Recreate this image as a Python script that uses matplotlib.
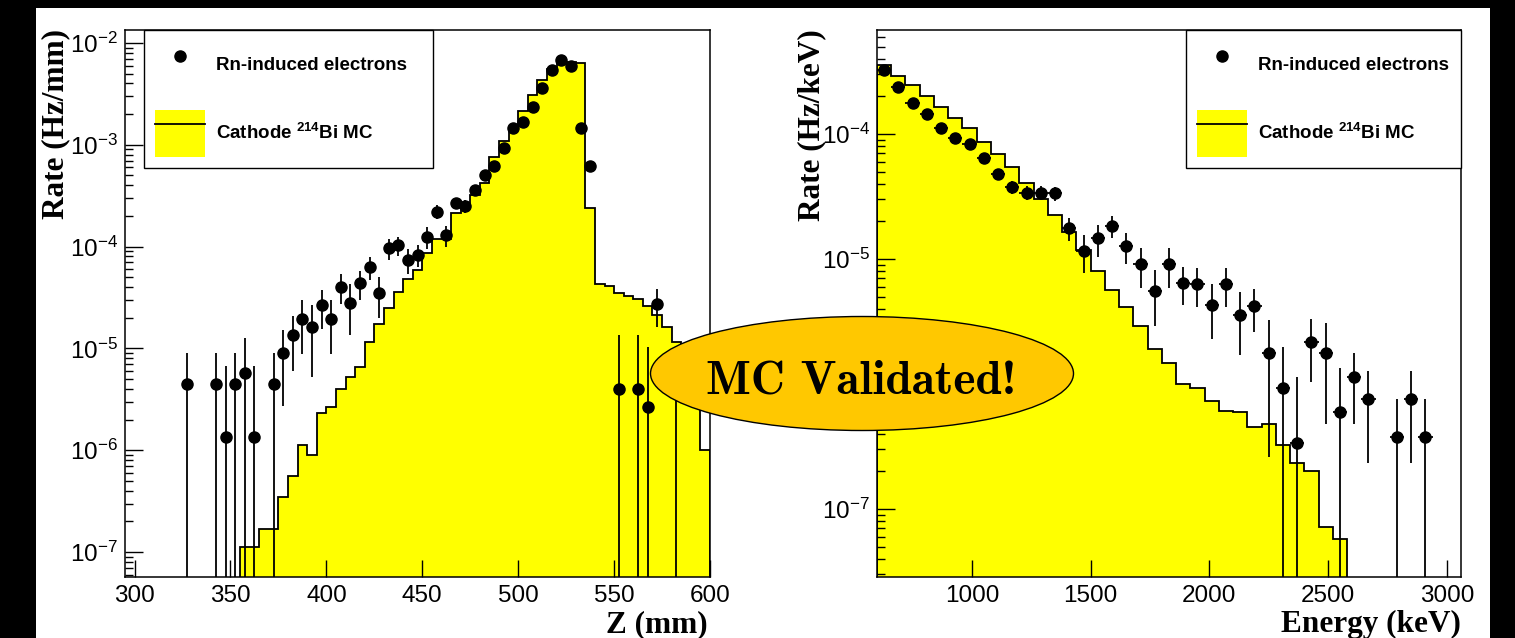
import matplotlib
matplotlib.use("Agg")
import matplotlib.pyplot as plt
from matplotlib.patches import Ellipse, Rectangle, Patch
from matplotlib.lines import Line2D
from matplotlib.ticker import LogLocator, NullFormatter, MultipleLocator
import numpy as np

plt.rcParams['font.family'] = 'Liberation Sans'
plt.rcParams['mathtext.fontset'] = 'custom'
plt.rcParams['mathtext.rm'] = 'Liberation Sans'
plt.rcParams['mathtext.it'] = 'Liberation Sans:italic'
plt.rcParams['mathtext.bf'] = 'Liberation Sans:bold'

# ---------------------------
# Z spectrum (left)
# ---------------------------
z_mc_edges = np.arange(355, 601, 5)
z_mc_rate = [1.12e-7, 1.12e-7, 1.69e-7, 1.69e-7, 3.44e-7, 5.6e-7, 1.12e-6, 8.95e-7,
             2.3e-6, 2.67e-6, 3.96e-6, 5.27e-6, 6.61e-6, 1.15e-5, 1.74e-5, 2.48e-5,
             3.61e-5, 4.79e-5, 5.9e-5, 8.6e-5, 1.19e-4, 1.19e-4, 2.16e-4, 2.53e-4,
             3.22e-4, 4.2e-4, 7.57e-4, 1.08e-3, 1.49e-3, 2.17e-3, 3.1e-3, 4.29e-3,
             5.55e-3, 6.6e-3, 6.45e-3, 6.35e-3, 2.42e-4, 4.3e-5, 4.1e-5, 3.5e-5,
             3.26e-5, 3.03e-5, 2.6e-5, 2.13e-5, 1.63e-5, 1.16e-5, 8e-6, 5e-6, 1.0e-6]

z_data = [327.5, 342.5, 347.5, 352.5, 357.5, 362.5, 372.5, 377.5, 382.5, 387.5,
          392.5, 397.5, 402.5, 407.5, 412.5, 417.5, 422.5, 427.5, 432.5, 437.5,
          442.5, 447.5, 452.5, 457.5, 462.5, 467.5, 472.5, 477.5, 482.5, 487.5,
          492.5, 497.5, 502.5, 507.5, 512.5, 517.5, 522.5, 527.5, 532.5, 537.5,
          552.5, 562.5, 567.5, 572.5, 582.5]
z_rate = [4.47e-6, 4.47e-6, 1.34e-6, 4.47e-6, 5.8e-6, 1.34e-6, 4.47e-6, 8.95e-6, 1.35e-5, 1.93e-5,
          1.61e-5, 2.67e-5, 1.93e-5, 4.05e-5, 2.8e-5, 4.37e-5, 6.35e-5, 3.5e-5, 9.6e-5, 1.03e-4,
          7.4e-5, 8.3e-5, 1.25e-4, 2.2e-4, 1.3e-4, 2.67e-4, 2.5e-4, 3.56e-4, 5.0e-4, 6.2e-4,
          9.2e-4, 1.46e-3, 1.68e-3, 2.35e-3, 3.6e-3, 5.46e-3, 6.74e-3, 5.98e-3, 1.46e-3, 6.25e-4,
          4.0e-6, 4.0e-6, 2.67e-6, 2.73e-5, 5.0e-6]
z_err = [4.47e-6, 4.47e-6, 5.4e-6, 4.47e-6, 6.9e-6, 5.4e-6, 4.47e-6, 6.2e-6, 7.5e-6, 1.05e-5,
         1.08e-5, 1.1e-5, 1.04e-5, 1.3e-5, 1.45e-5, 1.4e-5, 1.6e-5, 1.5e-5, 2.2e-5, 2.2e-5,
         2.0e-5, 2.0e-5, 3.0e-5, 3.5e-5, 3.0e-5, 3.5e-5, 3.5e-5, 4e-5, 4.5e-5, 5e-5,
         6e-5, 7e-5, 8e-5, 9e-5, 1.1e-4, 1.4e-4, 1.5e-4, 1.5e-4, 7e-5, 5e-5,
         9.6e-6, 9.6e-6, 7.7e-6, 1.1e-5, 5.0e-6]

# ---------------------------
# Energy spectrum (right)
# ---------------------------
e_mc_edges = np.arange(600, 2581, 60)
e_mc_rate = [3.56e-4, 2.91e-4, 2.47e-4, 2.01e-4, 1.65e-4, 1.35e-4, 1.11e-4, 8.68e-5,
             6.92e-5, 5.48e-5, 4.04e-5, 3.02e-5, 2.25e-5, 1.64e-5, 1.18e-5, 8.06e-6,
             5.65e-6, 4.15e-6, 2.91e-6, 1.9e-6, 1.47e-6, 1.0e-6, 9.24e-7, 7.35e-7,
             6.11e-7, 5.94e-7, 4.55e-7, 4.76e-7, 3.25e-7, 2.32e-7, 2.02e-7, 7.14e-8, 5.71e-8]

e_data = [630, 690, 750, 810, 870, 930, 990, 1050, 1110, 1170, 1230, 1290, 1350,
          1410, 1470, 1530, 1590, 1650, 1710, 1770, 1830, 1890, 1950, 2010, 2070,
          2130, 2190, 2250, 2310, 2370, 2430, 2490, 2550, 2610, 2670, 2790, 2850, 2910]
e_rate = [3.25e-4, 2.36e-4, 1.78e-4, 1.45e-4, 1.12e-4, 9.23e-5, 8.32e-5, 6.39e-5, 4.79e-5,
          3.74e-5, 3.39e-5, 3.39e-5, 3.35e-5, 1.76e-5, 1.16e-5, 1.46e-5, 1.84e-5, 1.27e-5,
          9.07e-6, 5.5e-6, 9.07e-6, 6.46e-6, 6.3e-6, 4.28e-6, 6.3e-6, 3.56e-6, 4.2e-6,
          1.76e-6, 9.34e-7, 3.35e-7, 2.18e-6, 1.78e-6, 5.94e-7, 1.13e-6, 7.55e-7,
          3.79e-7, 7.55e-7, 3.79e-7]
e_err = [1.3e-5, 1.1e-5, 9e-6, 8e-6, 7e-6, 6.5e-6, 6e-6, 5.5e-6, 5e-6,
         4.5e-6, 4.2e-6, 4.2e-6, 4.2e-6, 3.7e-6, 3.9e-6, 4.2e-6, 3.8e-6, 3.5e-6,
         3.2e-6, 2.6e-6, 3.2e-6, 2.2e-6, 2.2e-6, 2.0e-6, 2.2e-6, 1.85e-6, 1.6e-6,
         1.5e-6, 1.05e-6, 8e-7, 1.15e-6, 1.3e-6, 7.4e-7, 6.5e-7, 5.2e-7,
         3.8e-7, 5.2e-7, 3.8e-7]

W, H = 1515, 638
fig = plt.figure(figsize=(W / 100, H / 100), dpi=100, facecolor='black')
fig.add_artist(Rectangle((36 / W, 0), (1490 - 36) / W, 1 - 8 / H,
                         transform=fig.transFigure, facecolor='white',
                         edgecolor='none', zorder=-5))


def px_axes(x0, x1, y0, y1):
    return fig.add_axes([x0 / W, 1 - y1 / H, (x1 - x0) / W, (y1 - y0) / H])


def draw_panel(ax, edges, mc, xd, yd, ed, xbin, xlim, ylim, xmajor, legend_box):
    ax.stairs(mc, edges, baseline=1e-12, fill=True, facecolor='#ffff00',
              edgecolor='none', zorder=1)
    ax.stairs(mc, edges, baseline=1e-12, color='black', lw=1.3, zorder=2)
    ax.errorbar(xd, yd, yerr=ed, xerr=xbin / 2, fmt='o', color='black',
                ms=8, elinewidth=1.3, capsize=0, zorder=3)
    ax.set_yscale('log')
    ax.set_xlim(*xlim)
    ax.set_ylim(*ylim)
    ax.xaxis.set_major_locator(MultipleLocator(xmajor))
    ax.yaxis.set_major_locator(LogLocator(base=10, numticks=20))
    ax.yaxis.set_minor_locator(LogLocator(base=10, subs=np.arange(2, 10), numticks=20))
    ax.yaxis.set_minor_formatter(NullFormatter())
    ax.tick_params(axis='both', which='major', direction='in', labelsize=17.5,
                   top=False, right=False, width=1)
    ax.tick_params(axis='x', which='major', length=12, pad=6)
    ax.tick_params(axis='y', which='major', length=13, pad=5)
    ax.tick_params(axis='y', which='minor', direction='in', length=6, width=1, right=False)
    ax.tick_params(axis='x', which='minor', bottom=False)
    for s in ax.spines.values():
        s.set_linewidth(1.1)

    handles = [Line2D([], [], marker='o', ls='none', color='black', ms=8),
               (Patch(facecolor='#ffff00', edgecolor='none'),
                Line2D([], [], color='black', lw=1.3))]
    labels = ['Rn-induced electrons', r'Cathode $^{\mathbf{214}}$Bi MC']
    leg = ax.legend(handles, labels, loc='upper left', bbox_to_anchor=legend_box,
                    mode='expand', borderaxespad=0, fancybox=False, framealpha=1,
                    edgecolor='black', handlelength=2.67,
                    handleheight=3.48, labelspacing=1.15, borderpad=0.6,
                    handletextpad=0.59, prop={'weight': 'bold', 'size': 13.5})
    leg.get_frame().set_linewidth(1.0)
    leg.set_zorder(5)


ax1 = px_axes(125, 710, 30, 577)
draw_panel(ax1, z_mc_edges, z_mc_rate, z_data, z_rate, z_err, 5,
           (295, 600), (5.7e-8, 1.34e-2), 50, (0.0325, 0.7514, 0.494, 0.2486))

ax2 = px_axes(877, 1461, 30, 577)
draw_panel(ax2, e_mc_edges, e_mc_rate, e_data, e_rate, e_err, 60,
           (600, 3060), (2.86e-8, 6.79e-4), 500, (0.529, 0.7514, 0.471, 0.2486))

serif = dict(family='Liberation Serif', fontweight='bold', fontsize=22.5)
fig.text(56 / W, 1 - 29 / H, 'Rate (Hz/mm)', rotation=90, ha='center', va='top', **serif)
fig.text(812 / W, 1 - 29 / H, 'Rate (Hz/keV)', rotation=90, ha='center', va='top', **serif)
fig.text(708 / W, 1 - 632 / H, 'Z (mm)', ha='right', va='baseline', **serif)
fig.text(1461 / W, 1 - 632 / H, 'Energy (keV)', ha='right', va='baseline', **serif)

# stamp over the middle
fig.add_artist(Ellipse((862 / W, 1 - 373.5 / H), 423 / W, 114 / H,
                       transform=fig.transFigure, facecolor='#ffc800',
                       edgecolor='black', lw=1.0, zorder=10))
fig.text(861 / W, 1 - 394 / H, 'MC Validated!', ha='center', va='baseline',
         family='cmb10', fontsize=34, zorder=11)

fig.savefig('out.png', dpi=100, facecolor=fig.get_facecolor())
